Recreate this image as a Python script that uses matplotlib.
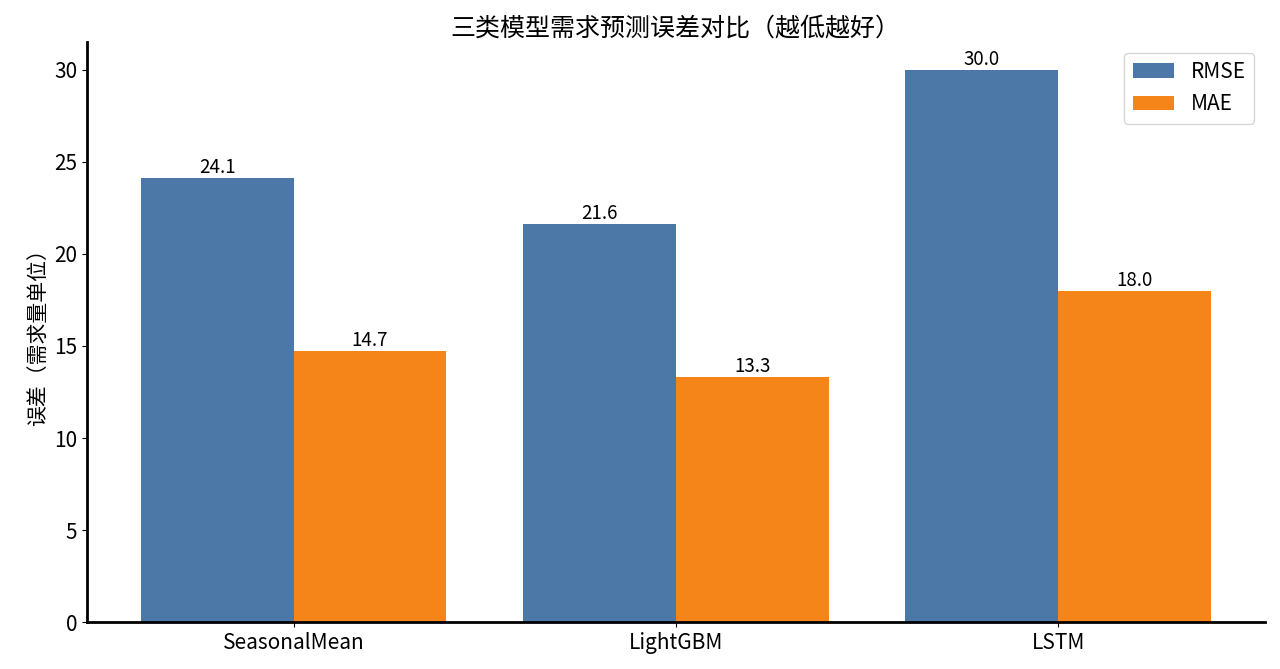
import matplotlib
matplotlib.use("Agg")
import matplotlib.pyplot as plt
import numpy as np

plt.rcParams['font.family'] = ['Noto Sans CJK SC', 'DejaVu Sans']
plt.rcParams['axes.unicode_minus'] = False

models = ['SeasonalMean', 'LightGBM', 'LSTM']
rmse = [24.1, 21.6, 30.0]
mae = [14.7, 13.3, 18.0]

x = np.arange(len(models))
width = 0.4

fig, ax = plt.subplots(figsize=(12.8, 6.69), dpi=100)

b1 = ax.bar(x - width / 2, rmse, width, label='RMSE', color='#4c78a8')
b2 = ax.bar(x + width / 2, mae, width, label='MAE', color='#f58518')

for bars in (b1, b2):
    ax.bar_label(bars, fmt='%.1f', fontsize=13.5, padding=0)

ax.set_xticks(x)
ax.set_xticklabels(models)
ax.set_ylabel('误差（需求量单位）', fontsize=15)
ax.set_title('三类模型需求预测误差对比（越低越好）', fontsize=18, pad=5)
ax.tick_params(labelsize=15)
ax.set_ylim(0, 31.5)

ax.spines['top'].set_visible(False)
ax.spines['right'].set_visible(False)
ax.spines['left'].set_linewidth(2)
ax.spines['bottom'].set_linewidth(2)

ax.legend(fontsize=15, loc='upper right')

fig.subplots_adjust(left=0.068, right=0.988, top=0.937, bottom=0.07)
fig.savefig('out.png', dpi=100)
